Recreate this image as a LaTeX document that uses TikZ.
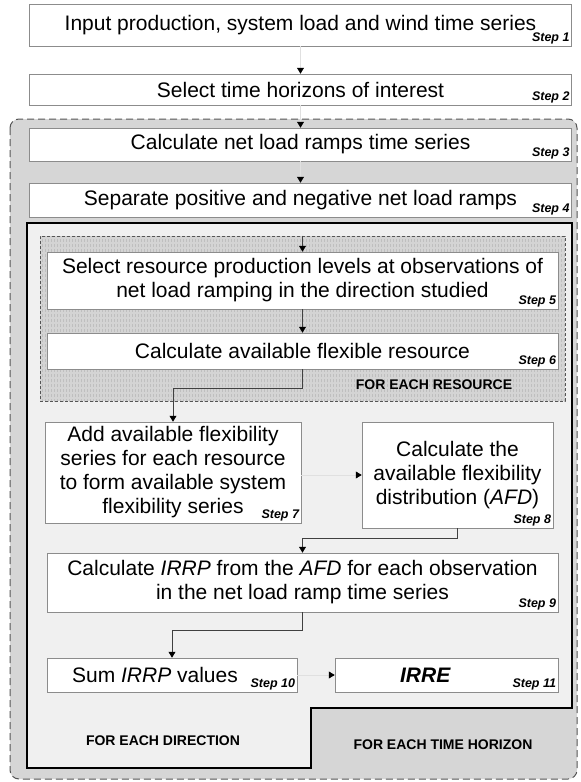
\documentclass[tikz,border=0pt]{standalone}
\usepackage{fontspec}
\setmainfont{Liberation Sans}
\usetikzlibrary{arrows.meta,patterns}
\definecolor{horizongrey}{RGB}{214, 214, 214}
\definecolor{directiongrey}{RGB}{240, 240, 240}
\definecolor{resourcegrey}{RGB}{212, 212, 212}
\definecolor{edgegrey}{RGB}{85, 85, 85}

\begin{document}
\begin{tikzpicture}
  [
    x=1pt, y=-1pt,
    every node/.style={font=\fontsize{21}{24}\selectfont},
    stepbox/.style={draw=black!45, line width=0.5pt, fill=white, align=center, inner sep=0pt},
    steplbl/.style={font=\fontsize{12.5}{14}\selectfont\bfseries\itshape, inner sep=2pt, anchor=south east},
    looplbl/.style={font=\fontsize{14}{16}\selectfont\bfseries, inner sep=0pt},
    flow/.style={draw=black!75, line width=0.6pt, -{Triangle[length=6pt, width=7pt, color=black]}},
    hint/.style={flow, draw=black!12},
    horizon/.style={fill=horizongrey, draw=edgegrey, dash pattern=on 7pt off 4pt, line width=1pt, rounded corners=9pt},
    direction/.style={fill=directiongrey, draw=black, line width=1.2pt},
    resource/.style={preaction={fill=resourcegrey}, pattern=vertical lines, pattern color=black!25,
      draw=edgegrey, dash pattern=on 3pt off 2pt, line width=0.8pt, inner sep=0pt}
  ]
  \useasboundingbox (0,0) rectangle (581,782);

  % loops
  \draw[horizon] (10,119) rectangle (577,779);
  \draw[direction] (27,223) -- (572,223) -- (572,708) -- (311,708) -- (311,768) -- (27,768) -- cycle;
  \node[resource, minimum width=525pt, minimum height=165pt] (res) at (302.5,318.5) {};

  \node[looplbl] (resl) at (434,385) {FOR EACH RESOURCE};
  \node[looplbl] (dirl) at (163,741) {FOR EACH DIRECTION};
  \node[looplbl] (horl) at (443,745) {FOR EACH TIME HORIZON};

  % steps
  \node[stepbox, minimum width=542pt, minimum height=42pt] (s1) at (300.5,25) {Input production, system load and wind time series};
  \node[stepbox, minimum width=542pt, minimum height=31pt] (s2) at (300.5,89.5) {Select time horizons of interest};
  \node[stepbox, minimum width=542pt, minimum height=33pt] (s3) at (300.5,144.5) {Calculate net load ramps time series};
  \node[stepbox, minimum width=542pt, minimum height=34pt] (s4) at (300.5,200) {Separate positive and negative net load ramps};
  \node[stepbox, minimum width=511pt, minimum height=57pt] (s5) at (302.5,280.5) {Select resource production levels at observations of\\net load ramping in the direction studied};
  \node[stepbox, minimum width=511pt, minimum height=36pt] (s6) at (302.5,351) {Calculate available flexible resource};
  \node[stepbox, minimum width=256pt, minimum height=101pt] (s7) at (173,472.5) {Add available flexibility\\series for each resource\\to form available system\\flexibility series};
  \node[stepbox, minimum width=191pt, minimum height=106pt] (s8) at (457.5,475) {Calculate the\\available flexibility\\distribution (\textit{AFD})};
  \node[stepbox, minimum width=511pt, minimum height=59pt] (s9) at (302.5,582.5) {Calculate \textit{IRRP} from the \textit{AFD} for each observation\\in the net load ramp time series};
  \node[stepbox, minimum width=250pt, minimum height=34pt] (s10) at (172,675) {Sum \textit{IRRP} values\hspace*{34pt}};
  \node[stepbox, minimum width=223pt, minimum height=34pt] (s11) at (446.5,675) {\textbf{\textit{IRRE}}\hspace*{42pt}};

  \foreach \n in {1,...,11}
    \node[steplbl] (l\n) at (s\n.south east) {Step \n};

  % connectors
  \draw[hint] (s1) -- (s2);
  \draw[hint] (s2) -- (s3);
  \draw[hint] (s3) -- (s4);
  \draw[flow] (res.north) -- (s5);
  \draw[flow] (s5) -- (s6);
  \draw[flow] (s6.south) -- ++(0,19) -| (s7.north);
  \draw[hint] (s7.east |- s8.west) -- (s8.west);
  \draw[flow] (s8.south) -- ++(0,10) -| (s9.north);
  \draw[flow] (s9.south) -- ++(0,18) -| (s10.north);
  \draw[hint] (s10) -- (s11);

\end{tikzpicture}
\end{document}
